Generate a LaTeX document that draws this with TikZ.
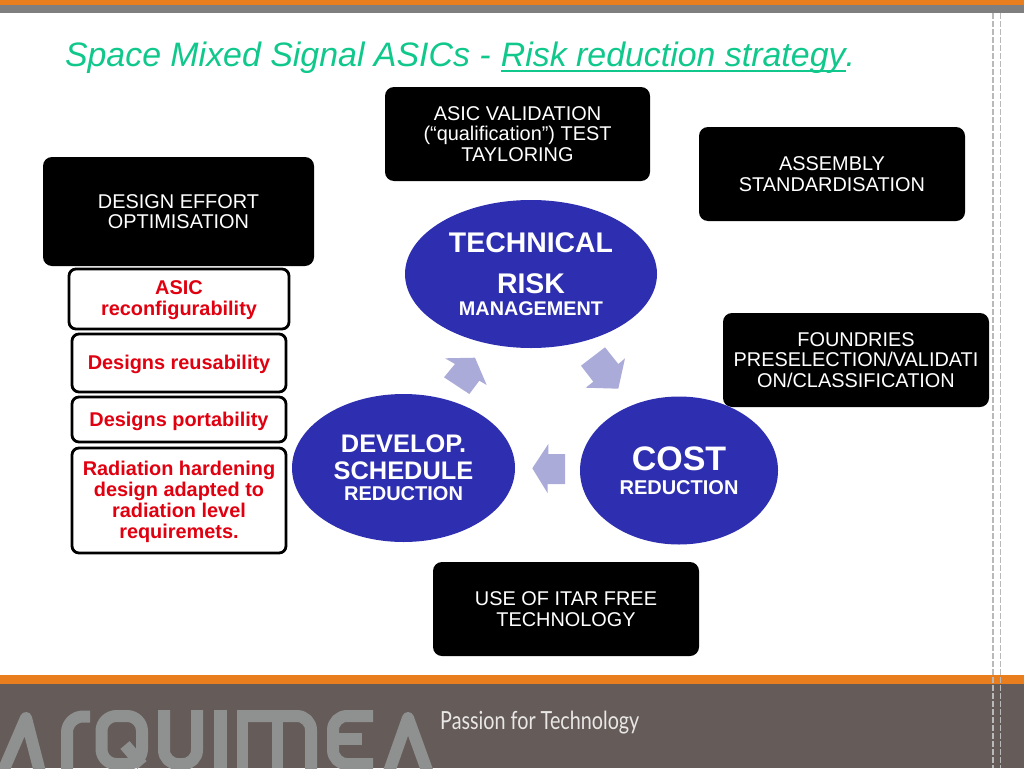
\documentclass[tikz,border=0pt]{standalone}
\usepackage{fontspec}
\usepackage{graphicx}
\setmainfont{Liberation Sans}
\newfontfamily\sloganfont{Lato}
\usetikzlibrary{shapes.geometric}
\definecolor{orangebar}{HTML}{E87E1E}
\definecolor{greybar}{HTML}{7F7F80}
\definecolor{footbg}{HTML}{655C5A}
\definecolor{logograu}{HTML}{8F9090}
\definecolor{titlegreen}{HTML}{10C88C}
\definecolor{ellblue}{HTML}{2E2EB0}
\definecolor{arrowblue}{HTML}{ABABD9}
\definecolor{redtxt}{HTML}{E00010}
\newcommand{\fs}[2]{\fontsize{#1}{#2}\selectfont}
\tikzset{
  x=1pt,y=-1pt,
  blackbox/.style={fill=black,rounded corners=9pt,anchor=north west,inner sep=0pt,outer sep=0pt,text=white,align=center,font=\fs{19.9}{20.6}},
  whitebox/.style={fill=white,draw=black,line width=2.8pt,rounded corners=7pt,anchor=north west,inner sep=0pt,outer sep=0pt,text=redtxt,align=center,font=\bfseries\fs{19.9}{20.6}},
  blob/.style={ellipse,fill=ellblue,inner sep=0pt,outer sep=0pt,text=white,align=center},
  logostroke/.style={draw=logograu,line width=12pt,line join=round},
  roundarrow/.style={fill=arrowblue},
  guide/.style={draw=gray!55,line width=1.2pt,dash pattern=on 6pt off 2pt},
  titlepart/.style={inner sep=0pt,outer sep=0pt,text=titlegreen,font=\itshape\fs{33.9}{36},text height=24pt,text depth=7pt}
}
\begin{document}
\begin{tikzpicture}
\useasboundingbox (0,0) rectangle (1024,768);
\fill[white] (0,0) rectangle (1024,768);
% bars
\fill[orangebar] (0,0) rectangle (1024,5);
\fill[greybar] (0,5) rectangle (1024,13);
\fill[footbg] (0,684) rectangle (1024,768);
\fill[orangebar] (0,675) rectangle (1024,683.5);
% logo
\begin{scope}
\clip (0,684) rectangle (1024,768);
\draw[logostroke] (1,776) -- (26,718) -- (41,776);
\draw[logostroke,rounded corners=16pt] (67,776) -- (67,716.5) -- (90,716.5);
\draw[logostroke,rounded corners=15pt] (101.5,740) -- (101.5,716) -- (142,716) -- (142,764) -- (101.5,764) -- (101.5,735);
\draw[logostroke] (125,745) -- (142,765);
\draw[logostroke,rounded corners=14pt] (164,710) -- (164,764) -- (197,764) -- (197,710);
\fill[logograu] (214,710) rectangle (227,768);
\fill[logograu] (237,710) rectangle (248,768);
\fill[logograu] (272,710) rectangle (283,768);
\draw[logostroke,rounded corners=14pt] (237,716) -- (311,716) -- (311,780);
\draw[logostroke,rounded corners=14pt] (373,716) -- (333,716) -- (333,764) -- (373,764);
\fill[logograu] (333,733) rectangle (362,745);
\draw[logostroke] (387.5,776) -- (408,718) -- (429,776);
\end{scope}
\node[anchor=west,inner sep=0pt,text=white!85!footbg] (slogan) at (440,723) {\scalebox{0.79}[1]{\sloganfont\fs{25}{27}Passion for Technology}};
% dashed guides
\draw[guide] (993,13) -- (993,768);
\draw[guide] (1000.5,13) -- (1000.5,768);
% title
\node[titlepart,anchor=west] (t1) at (65,58) {Space Mixed Signal ASICs -};
\node[titlepart,anchor=west] (t2) at ([xshift=10pt]t1.east) {Risk reduction strategy};
\node[titlepart,anchor=west] (t3) at (t2.east) {.};
\draw[titlegreen,line width=2pt] ([yshift=2.5pt]t2.south west) -- ([yshift=2.5pt]t2.south east);
% black boxes
\node[blackbox,minimum width=265pt,minimum height=94pt] (valid) at (385,87) {ASIC VALIDATION\\(“qualification”) TEST\\TAYLORING};
\node[blackbox,minimum width=266pt,minimum height=94pt] (assembly) at (699,127) {ASSEMBLY\\STANDARDISATION};
\node[blackbox,minimum width=271pt,minimum height=109pt] (design) at (43,157) {DESIGN EFFORT\\OPTIMISATION};
\node[blackbox,minimum width=266pt,minimum height=94pt] (found) at (723,313) {FOUNDRIES\\PRESELECTION/VALIDATI\\ON/CLASSIFICATION};
\node[blackbox,minimum width=266pt,minimum height=94pt] (itar) at (433,562) {USE OF ITAR FREE\\TECHNOLOGY};
% white boxes
\node[whitebox,minimum width=220pt,minimum height=60pt] (reconf) at (69,269) {\rule{0pt}{16.5pt}ASIC\\reconfigurability};
\node[whitebox,minimum width=214pt,minimum height=58pt] (reuse) at (72,334) {\rule{0pt}{16.5pt}Designs reusability};
\node[whitebox,minimum width=214pt,minimum height=45pt] (port) at (72,397) {\rule{0pt}{18pt}Designs portability};
\node[whitebox,minimum width=214pt,minimum height=105pt,font=\bfseries\fs{19.9}{21.2}] (rad) at (72,448) {\rule{0pt}{17pt}Radiation hardening\\design adapted to\\radiation level\\requiremets.};
% ellipses
\node[blob,minimum width=252pt,minimum height=148pt] (tech) at (531,274) {\bfseries\fs{28.4}{40}TECHNICAL\\[20pt]\bfseries\fs{28.4}{28}RISK\\[7pt]\bfseries\fs{19.8}{24}MANAGEMENT};
\node[blob,minimum width=223pt,minimum height=148pt] (sched) at (403.5,468) {\bfseries\fs{25.4}{28}DEVELOP.\\[8pt]\bfseries\fs{25.4}{27}SCHEDULE\\[6pt]\bfseries\fs{20}{24}REDUCTION};
\node[blob,minimum width=198pt,minimum height=148pt] (cost) at (679,470.5) {\bfseries\fs{34}{38}COST\\[9pt]\bfseries\fs{20}{20}REDUCTION};
% cycle arrows
\fill[roundarrow] (565,454) -- (548.3,454) -- (548.3,444) -- (532.3,468.3) -- (547.7,493.3) -- (547.7,484) -- (565,484) -- cycle;
\fill[roundarrow] (444,377.3) -- (455,364) -- (445,358.3) -- (475,357.7) -- (486.7,385) -- (479.3,380.7) -- (469.3,394) -- cycle;
\fill[roundarrow] (605,347.3) -- (581,365.7) -- (593.3,381.7) -- (585.7,387.7) -- (618.3,388.7) -- (625,358.3) -- (618.3,364) -- cycle;
\end{tikzpicture}
\end{document}
